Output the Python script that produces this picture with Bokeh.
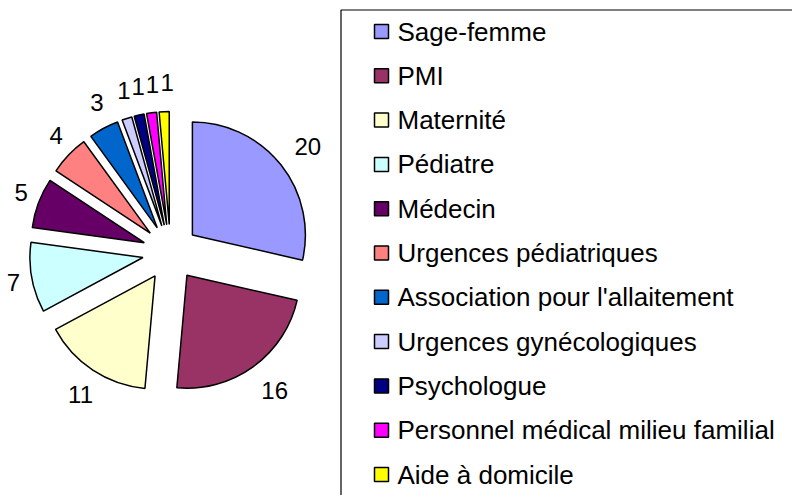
import math
from bokeh.plotting import figure
from bokeh.models import Range1d, ColumnDataSource
from bokeh.core.properties import value
from bokeh.embed import file_html
from bokeh.resources import INLINE

categories = ["Sage-femme", "PMI", "Maternité", "Pédiatre", "Médecin",
              "Urgences pédiatriques", "Association pour l'allaitement",
              "Urgences gynécologiques", "Psychologue",
              "Personnel médical milieu familial", "Aide à domicile"]
counts = [20, 16, 11, 7, 5, 4, 3, 1, 1, 1, 1]
colors = ["#9999FF", "#993366", "#FFFFCC", "#CCFFFF", "#660066", "#FF8080",
          "#0066CC", "#CCCCFF", "#000080", "#FF00FF", "#FFFF00"]

W, H = 792, 495
FONT = "Liberation Sans"

p = figure(width=W, height=H, output_backend="svg", toolbar_location=None,
           x_range=Range1d(0, W), y_range=Range1d(0, H), min_border=0)
p.axis.visible = False
p.grid.visible = False
p.outline_line_color = None
p.background_fill_color = "white"

# pie geometry (data units = pixels, y measured from the bottom)
cx, cy = 170, H - 252
R = 113
explode = 28
total = sum(counts)

starts, ends, xs, ys, lx, ly, labels = [], [], [], [], [], [], []
cum = 0
for v in counts:
    a0 = cum / total * 2 * math.pi
    a1 = (cum + v) / total * 2 * math.pi
    mid = (a0 + a1) / 2
    ux, uy = math.sin(mid), math.cos(mid)
    starts.append(math.pi / 2 - a0)
    ends.append(math.pi / 2 - a1)
    xs.append(cx + explode * ux)
    ys.append(cy + explode * uy)
    txt = str(v)
    w = 13.5 * len(txt)
    lx.append(cx + 4 + 157 * ux + ux * w / 2)
    ly.append(cy + 157 * uy + uy * 13)
    labels.append(txt)
    cum += v

src = ColumnDataSource(dict(x=xs, y=ys, s=starts, e=ends, c=colors))
p.wedge(x="x", y="y", radius=R, start_angle="s", end_angle="e",
        direction="clock", fill_color="c", line_color="black",
        line_width=1.5, source=src)

p.text(x=lx, y=ly, text=labels, text_align="center", text_baseline="middle",
       text_font=value(FONT), text_font_size="24px", text_color="black")

# legend box (extends beyond the visible area like the reference)
p.quad(left=[340.5], right=[W + 20], top=[H - 9.5], bottom=[-20],
       fill_color=None, line_color="black", line_width=1.2)

n = len(categories)
pitch = 44.3
row_y = [H - 31 - pitch * i for i in range(n)]
p.rect(x=[381] * n, y=row_y, width=14, height=14, width_units="screen",
       height_units="screen", fill_color=colors, line_color="black",
       line_width=1.5)
p.text(x=[397] * n, y=row_y, text=categories, text_align="left",
       text_baseline="middle", text_font=value(FONT),
       text_font_size="26px", text_color="black")

open("out.html", "w").write(file_html(p, INLINE))
